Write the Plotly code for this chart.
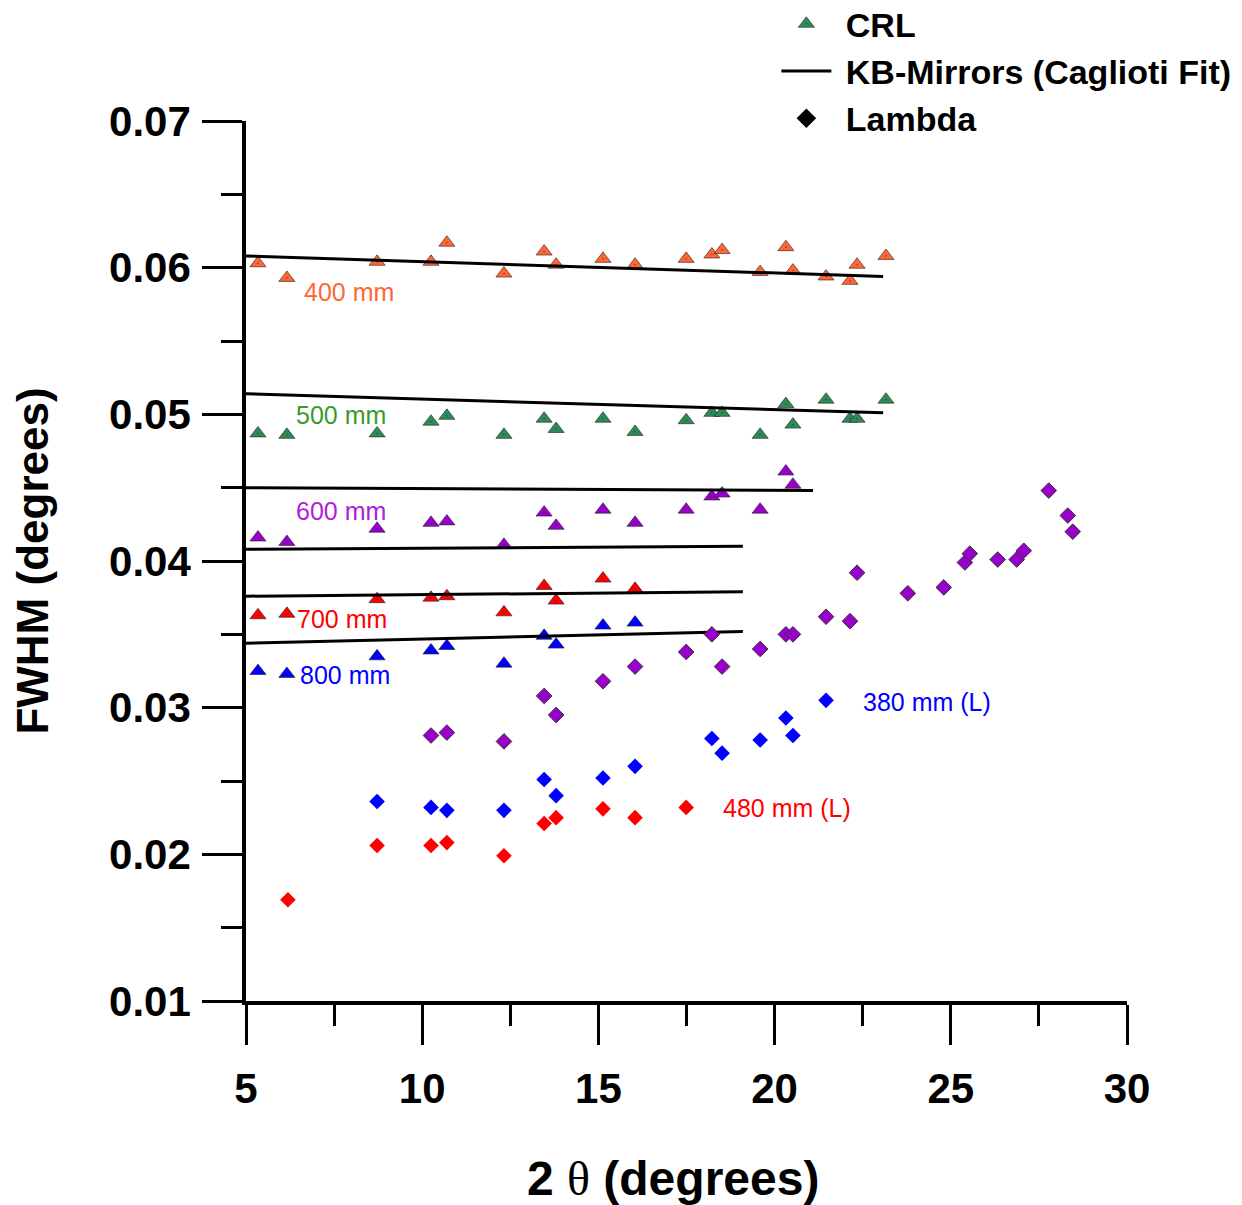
import plotly.graph_objects as go

# ---------------- data ----------------
crl_x = [5.34, 6.16, 8.72, 10.25, 10.70, 12.32, 13.46, 13.80, 15.13, 16.04,
         17.49, 18.22, 18.51, 19.59, 20.32, 20.52, 21.46, 22.14, 22.34, 23.16]

crl_400 = [0.0603, 0.0593, 0.0604, 0.0604, 0.0617, 0.0596, 0.0611, 0.0602, 0.0606, 0.0602,
           0.0606, 0.0609, 0.0612, 0.0597, 0.0614, 0.0598, 0.0594, 0.0591, 0.0602, 0.0608]
crl_500 = [0.0487, 0.0486, 0.0487, 0.0495, 0.0499, 0.0486, 0.0497, 0.0490, 0.0497, 0.0488,
           0.0496, 0.0501, 0.0501, 0.0486, 0.0507, 0.0493, 0.0510, 0.0497, 0.0497, 0.0510]
crl_600 = [0.0416, 0.0413, 0.0422, 0.0426, 0.0427, 0.0411, 0.0433, 0.0424, 0.0435, 0.0426,
           0.0435, 0.0444, 0.0446, 0.0435, 0.0461, 0.0452]
crl_700 = [0.0363, 0.0364, 0.0374, 0.0375, 0.0376, 0.0365, 0.0383, 0.0373, 0.0388, 0.0381]
crl_800 = [0.0325, 0.0323, 0.0335, 0.0339, 0.0342, 0.0330, 0.0349, 0.0343, 0.0356, 0.0358]

# KB-mirror Caglioti fits (start/end of each fitted curve)
fit_x0 = [5.0, 5.0, 5.0, 5.0, 5.0, 5.0]
fit_x1 = [23.08, 23.08, 21.09, 19.10, 19.10, 19.10]
fit_y0 = [0.0608, 0.0514, 0.0450, 0.0408, 0.0376, 0.0344]
fit_y1 = [0.0594, 0.0501, 0.0448, 0.0410, 0.0379, 0.0352]

lam280_x = [10.25, 10.70, 12.32, 13.46, 13.80, 15.13, 16.04, 17.49, 18.22, 18.51,
            19.59, 20.32, 20.52, 21.46, 22.14, 22.34, 23.78, 24.80, 25.40, 25.54,
            26.33, 26.87, 27.07, 27.78, 28.32, 28.46]
lam280_y = [0.0281, 0.0283, 0.0277, 0.0308, 0.0295, 0.0318, 0.0328, 0.0338, 0.0350, 0.0328,
            0.0340, 0.0350, 0.0350, 0.0362, 0.0359, 0.0392, 0.0378, 0.0382, 0.0399, 0.0405,
            0.0401, 0.0401, 0.0407, 0.0448, 0.0431, 0.0420]

lam380_x = [8.72, 10.25, 10.70, 12.32, 13.46, 13.80, 15.13, 16.04, 18.22, 18.51,
            19.59, 20.32, 20.52, 21.46]
lam380_y = [0.0236, 0.0232, 0.0230, 0.0230, 0.0251, 0.0240, 0.0252, 0.0260, 0.0279, 0.0269,
            0.0278, 0.0293, 0.0281, 0.0305]

lam480_x = [6.19, 8.72, 10.25, 10.70, 12.32, 13.46, 13.80, 15.13, 16.04, 17.49]
lam480_y = [0.0169, 0.0206, 0.0206, 0.0208, 0.0199, 0.0221, 0.0225, 0.0231, 0.0225, 0.0232]

labels = ["400 mm", "500 mm", "600 mm", "700 mm", "800 mm",
          "280 mm (L)", "380 mm (L)", "480 mm (L)"]
label_x = [7.92, 7.70, 7.70, 7.72, 7.81, 30.99, 24.32, 20.35]
label_y = [0.05834, 0.04996, 0.04341, 0.03605, 0.03223, 0.04355, 0.03039, 0.02316]

# ---------------- styles ----------------
ORANGE = "#FF6633"
GREEN = "#2E8B57"
PURPLE = "#9900CC"
RED = "#FF0000"
BLUE = "#0000FF"
label_colors = [ORANGE, "#3A9A2A", "#B020D8", RED, BLUE, "#B020D8", BLUE, RED]

BOLD = dict(family="Arial, Liberation Sans, sans-serif", color="black", weight="bold")

fig = go.Figure()

crl_sets = [(crl_400, ORANGE), (crl_500, GREEN), (crl_600, PURPLE), (crl_700, RED), (crl_800, BLUE)]
for i, (ys, col) in enumerate(crl_sets):
    fig.add_trace(go.Scatter(
        x=crl_x[:len(ys)], y=ys, mode="markers",
        name="&nbsp;CRL", showlegend=(i == 1), legendgroup="a", legendrank=1,
        marker=dict(symbol="triangle-up-dot", size=14, color=col,
                    line=dict(color="#202020", width=0.6)),
    ))

for i in range(len(fit_x0)):
    fig.add_trace(go.Scatter(
        x=[fit_x0[i], fit_x1[i]], y=[fit_y0[i], fit_y1[i]], mode="lines",
        name="&nbsp;KB-Mirrors (Caglioti Fit)", showlegend=(i == 0), legendgroup="b", legendrank=2,
        line=dict(color="black", width=3),
    ))

fig.add_trace(go.Scatter(x=lam280_x, y=lam280_y, mode="markers", showlegend=False,
                         marker=dict(symbol="diamond", size=12, color=PURPLE,
                                     line=dict(color="#333333", width=1))))
fig.add_trace(go.Scatter(x=lam380_x, y=lam380_y, mode="markers", showlegend=False,
                         marker=dict(symbol="diamond", size=12, color=BLUE, line=dict(width=0))))
fig.add_trace(go.Scatter(x=lam480_x, y=lam480_y, mode="markers", showlegend=False,
                         marker=dict(symbol="diamond", size=12, color=RED, line=dict(width=0))))
fig.add_trace(go.Scatter(x=[None], y=[None], mode="markers", name="&nbsp;Lambda",
                         legendgroup="c", legendrank=3,
                         marker=dict(symbol="diamond", size=15, color="black")))

for t, lx, ly, c in zip(labels, label_x, label_y, label_colors):
    fig.add_annotation(x=lx, y=ly, text=t, showarrow=False, xanchor="center", yanchor="middle",
                       font=dict(family="Liberation Sans Narrow, Arial Narrow, Arial", size=25, color=c))

axis_common = dict(
    showline=True, linecolor="black", linewidth=3.5, mirror=False,
    ticks="outside", ticklen=40, tickwidth=3, tickcolor="black",
    showgrid=False, zeroline=False,
    tickfont=dict(size=42, **BOLD),
)

fig.update_xaxes(range=[5, 30], tick0=5, dtick=5,
                 minor=dict(ticks="outside", ticklen=21, tickwidth=3, tickcolor="black", dtick=2.5, showgrid=False),
                 ticklabelstandoff=8,
                 title=dict(text="2 <span style='font-family:Liberation Serif, Times New Roman, serif;font-weight:normal'>θ</span> (degrees)&nbsp;&nbsp;",
                            font=dict(size=48, **BOLD), standoff=51),
                 **axis_common)
fig.update_yaxes(range=[0.01, 0.07], tick0=0.01, dtick=0.01, tickformat=".2f",
                 minor=dict(ticks="outside", ticklen=21, tickwidth=3, tickcolor="black", dtick=0.005, showgrid=False),
                 ticklabelstandoff=3,
                 title=dict(text="FWHM (degrees)", font=dict(size=44, **BOLD), standoff=63),
                 **axis_common)

fig.update_layout(
    width=1242, height=1205,
    margin=dict(l=238, r=123, t=113, b=212, autoexpand=False),
    plot_bgcolor="white", paper_bgcolor="white",
    legend=dict(x=0.602, xanchor="left", y=1.143, yanchor="top",
                font=dict(size=34, **BOLD), bgcolor="rgba(0,0,0,0)",
                traceorder="grouped", tracegroupgap=0, itemwidth=50),
)

fig.write_html("out.html")
